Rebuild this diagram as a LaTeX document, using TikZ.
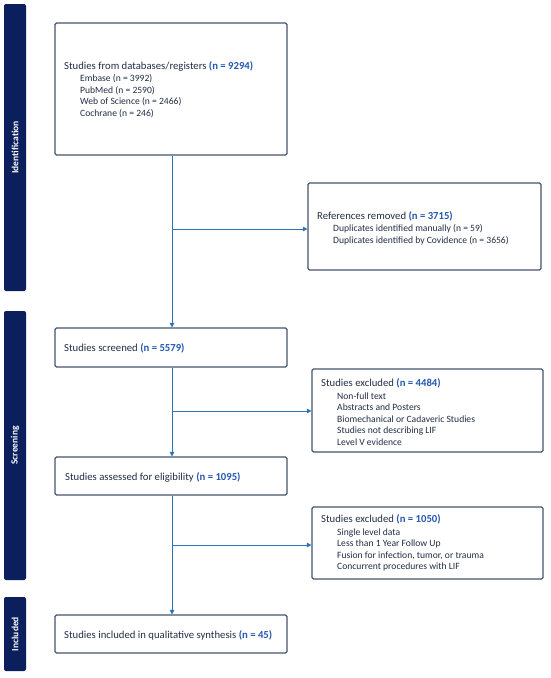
\documentclass[tikz,border=0pt]{standalone}
\usepackage{fontspec}
\setmainfont{Carlito}
\usetikzlibrary{arrows.meta}
\definecolor{bar}{HTML}{0A1F5C}
\definecolor{edge}{HTML}{44546A}
\definecolor{arr}{HTML}{2E75B6}
\definecolor{num}{HTML}{2458B0}
\definecolor{txt}{HTML}{222E45}
\tikzset{
  box/.style={draw=edge, line width=1.1pt, rounded corners=1.5pt, fill=white},
  phase/.style={fill=bar, rounded corners=2pt},
  phaselabel/.style={text=white, font=\fontsize{9.5}{10}\selectfont\bfseries, rotate=90},
  label/.style={anchor=west, align=left, text=txt, inner sep=0pt, font=\fontsize{9.6}{11.6}\selectfont},
  link/.style={draw=arr, line width=0.8pt},
  flow/.style={link, -{Triangle[length=4.5pt,width=4.5pt]}}
}
\newcommand{\nn}[1]{\textcolor{num}{\bfseries #1}}
\newcommand{\hd}[1]{{\fontsize{10.7}{11.6}\selectfont #1}}
\begin{document}
\begin{tikzpicture}[x=1pt,y=-1pt]
\useasboundingbox (0,0) rectangle (550,678);
% phase bars
\node[phase, minimum width=22pt, minimum height=287pt, inner sep=0pt] (pid) at (15,147.5) {};
\node[phaselabel] (pidl) at (pid.center) {Identification};
\node[phase, minimum width=22pt, minimum height=269pt, inner sep=0pt] (psc) at (15,445.5) {};
\node[phaselabel] (pscl) at (psc.center) {Screening};
\node[phase, minimum width=22pt, minimum height=74pt, inner sep=0pt] (pin) at (15,634) {};
\node[phaselabel] (pinl) at (pin.center) {Included};
% boxes
\node[box, minimum width=232pt, minimum height=132pt, inner sep=0pt] (b1) at (171,89) {};
\node[box, minimum width=233pt, minimum height=87pt, inner sep=0pt] (ref) at (424.5,226.5) {};
\node[box, minimum width=232pt, minimum height=39pt, inner sep=0pt] (scr) at (171,347.5) {};
\node[box, minimum width=231pt, minimum height=83pt, inner sep=0pt] (ex1) at (427.5,410.5) {};
\node[box, minimum width=232pt, minimum height=38pt, inner sep=0pt] (elg) at (171,476) {};
\node[box, minimum width=231pt, minimum height=72pt, inner sep=0pt] (ex2) at (427.5,543) {};
\node[box, minimum width=232pt, minimum height=38pt, inner sep=0pt] (inc) at (171,634) {};
% texts
\node[label] (t1) at (64,89.5) {\hd{Studies from databases/registers \nn{(n = 9294)}}\\[1pt]
\hspace*{16pt}Embase (n = 3992)\\
\hspace*{16pt}PubMed (n = 2590)\\
\hspace*{16pt}Web of Science (n = 2466)\\
\hspace*{16pt}Cochrane (n = 246)};
\node[label] (t2) at (317,228) {\hd{References removed \nn{(n = 3715)}}\\[1pt]
\hspace*{16pt}Duplicates identified manually (n = 59)\\
\hspace*{16pt}Duplicates identified by Covidence (n = 3656)};
\node[label] (t3) at (64,348) {\hd{Studies screened \nn{(n = 5579)}}};
\node[label] (t4) at (321,412) {\hd{Studies excluded \nn{(n = 4484)}}\\[1pt]
\hspace*{16pt}Non-full text\\
\hspace*{16pt}Abstracts and Posters\\
\hspace*{16pt}Biomechanical or Cadaveric Studies\\
\hspace*{16pt}Studies not describing LIF\\
\hspace*{16pt}Level V evidence};
\node[label] (t5) at (65,477) {\hd{Studies assessed for eligibility \nn{(n = 1095)}}};
\node[label] (t6) at (321,543) {\hd{Studies excluded \nn{(n = 1050)}}\\[1pt]
\hspace*{16pt}Single level data\\
\hspace*{16pt}Less than 1 Year Follow Up\\
\hspace*{16pt}Fusion for infection, tumor, or trauma\\
\hspace*{16pt}Concurrent procedures with LIF};
\node[label] (t7) at (64,635) {\hd{Studies included in qualitative synthesis \nn{(n = 45)}}};
% connectors
\coordinate (j1) at (172,229);
\coordinate (j2) at (172,411);
\coordinate (j3) at (172,545);
\draw[flow] (b1.south -| j1) -- (scr.north -| j1);
\draw[flow] (j1) -- (ref.west |- j1);
\draw[flow] (scr.south -| j2) -- (elg.north -| j2);
\draw[flow] (j2) -- (ex1.west |- j2);
\draw[flow] (elg.south -| j3) -- (inc.north -| j3);
\draw[flow] (j3) -- (ex2.west |- j3);
\end{tikzpicture}
\end{document}
